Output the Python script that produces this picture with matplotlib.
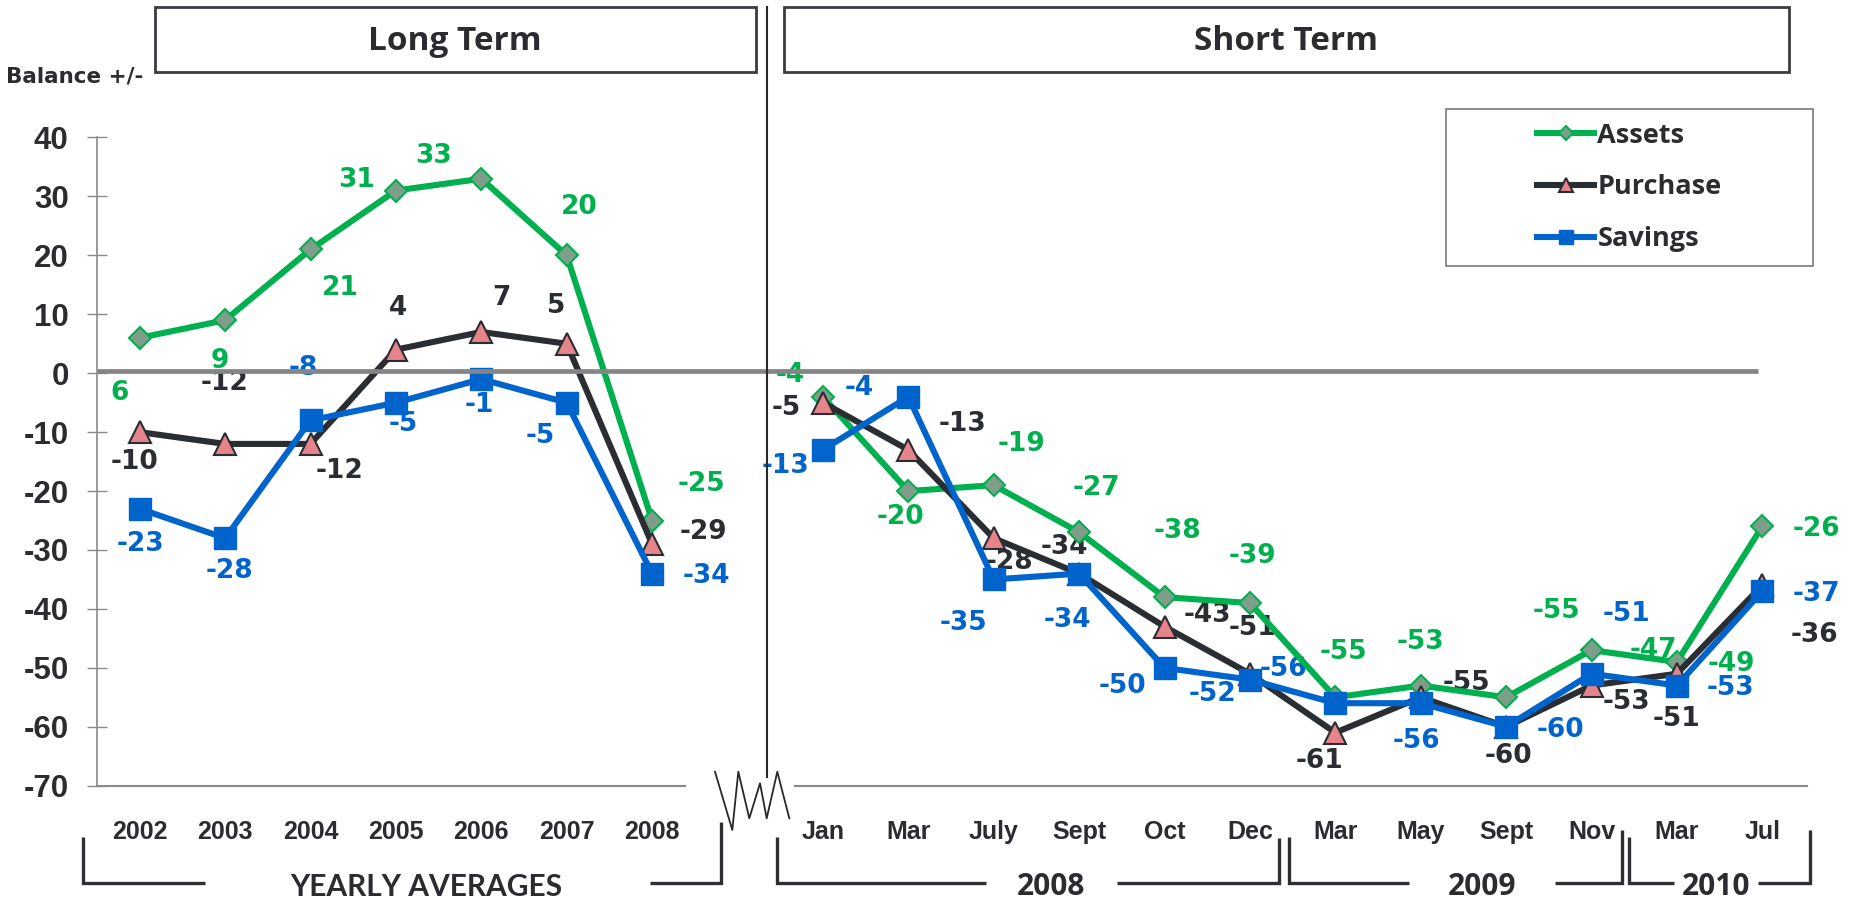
import numpy as np
import matplotlib
matplotlib.use('Agg')
import matplotlib.pyplot as plt
from matplotlib.patches import Rectangle

plt.rcParams['axes.unicode_minus'] = False

################################################################################
### DATA
################################################################################

years = ['2002', '2003', '2004', '2005', '2006', '2007', '2008']
months = ['Jan', 'Mar', 'July', 'Sept', 'Oct', 'Dec',
          'Mar', 'May', 'Sept', 'Nov', 'Mar', 'Jul']
series_names = ['Assets', 'Purchase', 'Savings']

assets_long = [6, 9, 21, 31, 33, 20, -25]
assets_short = [-4, -20, -19, -27, -38, -39, -55, -53, -55, -47, -49, -26]
purchase_long = [-10, -12, -12, 4, 7, 5, -29]
purchase_short = [-5, -13, -28, -34, -43, -51, -61, -55, -60, -53, -51, -36]
savings_long = [-23, -28, -8, -5, -1, -5, -34]
savings_short = [-13, -4, -35, -34, -50, -52, -56, -56, -60, -51, -53, -37]

yticks = list(range(-70, 41, 10))

# label nudges in pixels (right, down) - hand placed like the original
assets_offs = [(-20, 53), (-5, 39), (30, 37), (-39, -13), (-48, -25), (13, -50), (49, -39),
               (-33, -24), (-8, 24), (28, -43), (17, -46), (13, -68), (3, -49),
               (8, -47), (0, -46), (50, -88), (62, -2), (54, 0), (54, 1)]
purchase_offs = [(-5, 28), (-1, -63), (29, 25), (2, -44), (20, -36), (-11, -40), (51, -14),
                 (-37, 3), (54, -28), (16, 22), (-15, -29), (43, -14), (3, -48),
                 (-16, 26), (46, -16), (2, 27), (35, 14), (0, 43), (52, 48)]
savings_offs = [(1, 33), (4, 31), (-7, -54), (7, 19), (-2, 24), (-26, 31), (54, 0),
                (-37, 14), (-49, -11), (-30, 42), (-12, 44), (-42, 16), (-37, 12),
                (-52, -36), (-4, 36), (54, 1), (35, -62), (54, 0), (54, 1)]

GREEN = '#00b04f'
DARK = '#2a2d31'
BLUE = '#0064cc'
TXT = '#2a2c30'
GRAY = '#8a8a8a'

TICKF = ['Liberation Sans', 'DejaVu Sans']
HEADF = ['Open Sans', 'DejaVu Sans']

################################################################################
### PLOT
################################################################################

W, H = 1858, 900
fig = plt.figure(figsize=(W / 100, H / 100), dpi=100)
ax = fig.add_axes([97 / W, 1 - 785.7 / H, 1708 / W, 648.2 / H])

x_long = np.arange(len(years))
x_short = np.arange(len(months)) + len(years) + 1
xs = np.concatenate([x_long, [len(years)], x_short])
xlab = np.concatenate([x_long, x_short])

def joined(a, b):
    return np.array(a + [np.nan] + b, dtype=float)

styles = [
    (joined(assets_long, assets_short), GREEN, dict(marker='D', ms=11.5, mfc='#7f9e8a', mec=GREEN, mew=1.5), 2, assets_offs),
    (joined(purchase_long, purchase_short), DARK, dict(marker='^', ms=16, mfc='#e5848a', mec=DARK, mew=1.5), 3, purchase_offs),
    (joined(savings_long, savings_short), BLUE, dict(marker='s', ms=16, mfc=BLUE, mec=BLUE, mew=1), 4, savings_offs),
]

handles = []
for (vals, col, mk, z, offs), name in zip(styles, series_names):
    ln, = ax.plot(xs, vals, color=col, lw=4.4, zorder=z, label=name, **mk)
    handles.append(ln)
    vv = vals[~np.isnan(vals)]
    for xi, v, (dx, dy) in zip(xlab, vv, offs):
        ax.annotate('%d' % v, (xi, v), xytext=(dx * 0.72, -(dy + 2) * 0.72),
                    textcoords='offset points', ha='center', va='center',
                    color=col, fontsize=19, fontweight='bold', family='DejaVu Sans', zorder=1)

# zero line and broken bottom axis
ax.plot([-0.5, 18.95], [0.4, 0.4], color='#858585', lw=3.4, zorder=10, solid_capstyle='butt')
ax.plot([-0.5, 6.38], [-70, -70], color=GRAY, lw=1.5, clip_on=False, zorder=1)
ax.plot([7.67, 19.52], [-70, -70], color=GRAY, lw=1.5, clip_on=False, zorder=1)

ax.set_xlim(-0.5, 19.5)
ax.set_ylim(-70, 40)
ax.set_yticks(yticks)
ax.set_xticks(xlab, years + months)
for s in ['top', 'right', 'bottom']:
    ax.spines[s].set_visible(False)
ax.spines['left'].set_color(GRAY)
ax.spines['left'].set_linewidth(1.2)
ax.tick_params(axis='y', direction='inout', length=13.7, width=1, color=GRAY, pad=13.5)
ax.tick_params(axis='x', length=0, pad=24.5)
for lab in ax.get_yticklabels():
    lab.set_fontfamily(TICKF)
    lab.set_fontweight('bold')
    lab.set_fontsize(22.5)
    lab.set_color(TXT)
for lab in ax.get_xticklabels():
    lab.set_fontfamily(TICKF)
    lab.set_fontweight('bold')
    lab.set_fontsize(18)
    lab.set_color(TXT)
ax.patch.set_visible(False)

leg = ax.legend(handles=handles, loc='center', bbox_to_anchor=(1629.5 / W, 1 - 187.5 / H),
                bbox_transform=fig.transFigure, frameon=False, handlelength=2.1,
                handletextpad=0.12, labelspacing=0.95, markerscale=0.65,
                prop=dict(family=HEADF, weight='bold', size=19.5))
for t in leg.get_texts():
    t.set_color(TXT)

# decorations drawn in pixel space
ov = fig.add_axes([0, 0, 1, 1])
ov.set_xlim(0, W)
ov.set_ylim(H, 0)
ov.axis('off')
ov.set_facecolor('none')

ov.add_patch(Rectangle((154.6, 6.5), 601.4, 65.5, fill=False, ec='#3a3c40', lw=2))
ov.add_patch(Rectangle((784, 6.5), 1005, 65.5, fill=False, ec='#3a3c40', lw=2))
ov.text(455, 42, 'Long Term', ha='center', va='center', fontsize=24, family=HEADF, weight='bold', color=TXT)
ov.text(1286, 42, 'Short Term', ha='center', va='center', fontsize=24, family=HEADF, weight='bold', color=TXT)
ov.add_patch(Rectangle((1446, 109.3), 367, 156.4, fill=False, ec='#7a7a7a', lw=1.2))
ov.text(6, 77, 'Balance +/-', ha='left', va='center', fontsize=15.5, family='DejaVu Sans', weight='bold', color=TXT)

# separator and axis-break zigzag
ov.plot([766.7, 766.7], [6.7, 776.7], color='#26282b', lw=1.5)
zx = [715, 732.3, 738.3, 749.3, 760, 766.7, 777.3, 789.3]
zy = [771.7, 830, 771.7, 818.3, 783.3, 818.3, 771.7, 818.3]
ov.plot(zx, zy, color='#26282b', lw=1.3)

# period brackets under the axis
bk = dict(color='#2e3034', lw=2.4, solid_capstyle='butt', solid_joinstyle='miter')
by = 882.5
ov.plot([82.7, 82.7, 205], [836.7, by, by], **bk)
ov.plot([650.5, 721, 721], [by, by, 821.7], **bk)
ov.plot([776.7, 776.7, 986.5], [836.7, by, by], **bk)
ov.plot([1117.4, 1278.6, 1278.6], [by, by, 837.7], **bk)
ov.plot([1289.3, 1289.3, 1409.5], [836.7, by, by], **bk)
ov.plot([1555, 1622.3, 1622.3], [by, by, 830], **bk)
ov.plot([1629.4, 1629.4, 1673.6], [836.7, by, by], **bk)
ov.plot([1758.3, 1809.6, 1809.6], [by, by, 830], **bk)
ov.text(426, 887, 'YEARLY AVERAGES', ha='center', va='center', fontsize=21.5,
        family=['Lato', 'DejaVu Sans'], weight='bold', color=TXT)
grp = dict(ha='center', va='center', fontsize=21.5, family=HEADF, weight='bold', color=TXT)
ov.text(1051, 887, '2008', **grp)
ov.text(1482, 887, '2009', **grp)
ov.text(1716, 887, '2010', **grp)

plt.savefig('out.png', dpi=100)
